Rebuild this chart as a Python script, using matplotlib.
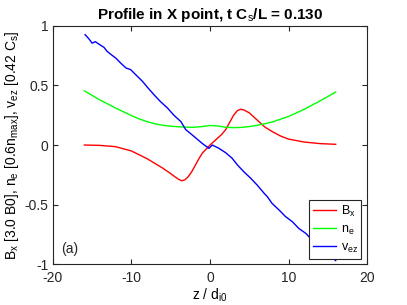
import numpy as np
import matplotlib
matplotlib.use('Agg')
import matplotlib.pyplot as plt

plt.rcParams['font.family'] = ['Liberation Sans', 'DejaVu Sans']
plt.rcParams['mathtext.fontset'] = 'custom'
plt.rcParams['mathtext.rm'] = 'Liberation Sans'
plt.rcParams['mathtext.it'] = 'Liberation Sans'

# B_x profile
z_bx = [-16, -14, -12, -10, -8, -7, -6, -5, -4.5, -4, -3.6, -3.2, -2.8, -2.4, -2, -1.5, -1, -0.5,
        0, 0.5, 1, 1.5, 2, 2.5, 3, 3.5, 3.9, 4.3, 5, 6, 7, 8, 9, 10, 12, 14, 16]
bx = [0.0, -0.003, -0.014, -0.05, -0.115, -0.155, -0.195, -0.24, -0.265, -0.288, -0.30, -0.292,
      -0.268, -0.232, -0.185, -0.125, -0.07, -0.035, 0.0, 0.03, 0.06, 0.09, 0.13, 0.19, 0.25,
      0.29, 0.30, 0.295, 0.27, 0.21, 0.15, 0.11, 0.075, 0.05, 0.025, 0.012, 0.006]

# n_e profile
z_ne = [-16, -14, -12, -10, -9, -8, -7, -6, -5, -4, -3, -2, -1, 0, 1, 2, 3, 4, 5, 6, 7, 8, 10,
        12, 14, 16]
ne = [0.455, 0.378, 0.31, 0.247, 0.219, 0.196, 0.178, 0.166, 0.158, 0.153, 0.15, 0.149, 0.155,
      0.164, 0.16, 0.149, 0.146, 0.148, 0.155, 0.166, 0.179, 0.195, 0.24, 0.30, 0.37, 0.445]

# v_ez profile (noisy)
z_vez = [-15.9, -15.4, -15.0, -14.6, -14.1, -13.5, -13.1, -12.6, -12.0, -11.4, -10.7, -10.1,
         -9.45, -8.6, -7.97, -7.1, -6.3, -5.4, -4.6, -3.7, -3.1, -2.0, -1.0, -0.13, 0.3, 1.15,
         2.0, 2.8, 3.5, 4.3, 5.2, 6.0, 6.9, 7.3, 7.9, 8.8, 9.6, 10.5, 11.3, 12.2, 13.0, 14.0,
         15.0, 16.0]
vez = [0.927, 0.89, 0.855, 0.868, 0.845, 0.82, 0.787, 0.76, 0.73, 0.69, 0.647, 0.633, 0.59,
       0.535, 0.485, 0.42, 0.364, 0.31, 0.25, 0.196, 0.13, 0.07, 0.014, -0.028, 0.0, -0.028,
       -0.065, -0.11, -0.168, -0.224, -0.28, -0.336, -0.406, -0.434, -0.49, -0.546, -0.60,
       -0.645, -0.70, -0.742, -0.798, -0.86, -0.92, -0.97]

fig = plt.figure(figsize=(4.07, 3.05), dpi=100)
ax = fig.add_axes([0.130, 0.134, 0.772, 0.781])

ax.plot(z_bx, bx, color=(1, 0, 0), lw=1.0, label='B$_x$')
ax.plot(z_ne, ne, color=(0, 1, 0), lw=1.0, label='n$_e$')
ax.plot(z_vez, vez, color=(0, 0, 1), lw=1.0, label='v$_{ez}$')

ax.set_xlim(-20, 20)
ax.set_ylim(-1, 1)
ax.set_xticks([-20, -10, 0, 10, 20])
ax.set_yticks([-1, -0.5, 0, 0.5, 1])
ax.set_yticklabels(['-1', '-0.5', '0', '0.5', '1'])
ax.set_xticklabels(['-20', '-10', '0', '10', '20'])
ax.tick_params(direction='in', length=3.5, width=0.8, top=True, right=True,
               labelsize=10, colors='#262626')
ax.tick_params(axis='x', pad=5)
ax.tick_params(axis='y', pad=3)
for s in ax.spines.values():
    s.set_color('#262626')
    s.set_linewidth(0.8)

ax.set_title('Profile in X point, t C$_s$/L = 0.130', fontsize=11, fontweight='bold', pad=5)
ax.set_xlabel('z / d$_{i0}$', fontsize=10, labelpad=1)
ax.set_ylabel('B$_x$ [3.0 B0], n$_e$ [0.6n$_{max}$], v$_{ez}$ [0.42 C$_s$]', fontsize=10, labelpad=3)

leg = ax.legend(loc='lower right', fontsize=9, handlelength=1.8, handletextpad=0.4,
                borderaxespad=0.45, fancybox=False, framealpha=1, borderpad=0.3,
                labelspacing=0.4)
leg.get_frame().set_edgecolor('#262626')
leg.get_frame().set_linewidth(0.8)

ax.text(0.025, 0.045, '(a)', transform=ax.transAxes, fontsize=10, color='#262626')

fig.savefig('out.png', dpi=100)
